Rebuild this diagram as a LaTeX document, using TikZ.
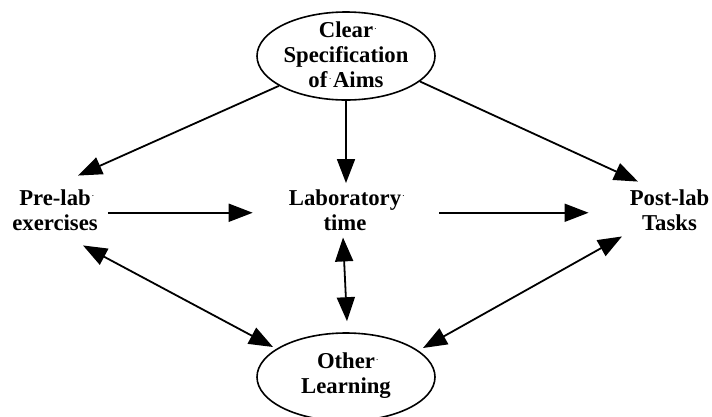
\documentclass[tikz,border=0pt]{standalone}
\usepackage{fontspec}
\setmainfont{Liberation Serif}
\usetikzlibrary{arrows.meta,shapes.geometric,calc}
\newcommand{\wdot}{\rlap{\kern1.5pt\raisebox{0.36em}{\fontsize{7}{7}\selectfont .}}}
\newcommand{\sdot}{\hbox to 0.25em{\hss\raisebox{0.36em}{\fontsize{7}{7}\selectfont .}\hss}}
\begin{document}
\begin{tikzpicture}[x=1pt,y=-1pt,
  lbl/.style={font=\fontsize{22.7}{25}\selectfont\bfseries, align=center, inner sep=0pt},
  oval/.style={draw, ellipse, line width=1.6pt, minimum width=178pt, minimum height=88pt, inner sep=0pt},
  arr/.style={line width=1.8pt, -{Triangle[length=24pt,width=18pt]}},
  dbl/.style={line width=1.8pt, {Triangle[length=24pt,width=18pt]}-{Triangle[length=24pt,width=18pt]}}]
\fill[white] (0,0) rectangle (712,416);
\useasboundingbox (0,0) rectangle (712,416);
% ellipses
\node[oval] (top) at (346,56) {};
\node[lbl] (topt) at (346,55) {Clear\wdot\\Specification\\of\sdot Aims};
\node[oval] (bot) at (346,377) {};
\node[lbl] (bott) at (346,376) {Other\wdot\\Learning};
% text nodes
\node[lbl] (pre) at (55,209.75) {Pre-lab\wdot\\exercises};
\node[lbl] (lab) at (345,209.75) {Laboratory\wdot\\time};
\node[lbl] (post) at (669.5,209.75) {Post-lab\\Tasks};
% arrows from aims
\draw[arr] (top.204) -- ($(pre.north)+(23,-13.5)$);
\draw[arr] (top.south) -- ($(top.south |- lab.north)+(0,-6)$);
\draw[arr] (top.341) -- ($(post.north)+(-31.5,-7.5)$);
% horizontal arrows
\draw[arr] ($(pre.east)+(10,3)$) -- ($(lab.west)+(-36,3)$);
\draw[arr] ($(lab.east)+(38,3)$) -- ($(post.west)+(-41,3)$);
% double arrows to other learning
\draw[dbl] ($(pre.south)+(28,15)$) -- ($(bot.center)+(-73,-30)$);
\draw[dbl] ($(lab.south)+(-2,7)$) -- ($(bot.north)+(1,-11)$);
\draw[dbl] ($(post.south)+(-47.5,6)$) -- ($(bot.center)+(77,-29)$);
\end{tikzpicture}
\end{document}
